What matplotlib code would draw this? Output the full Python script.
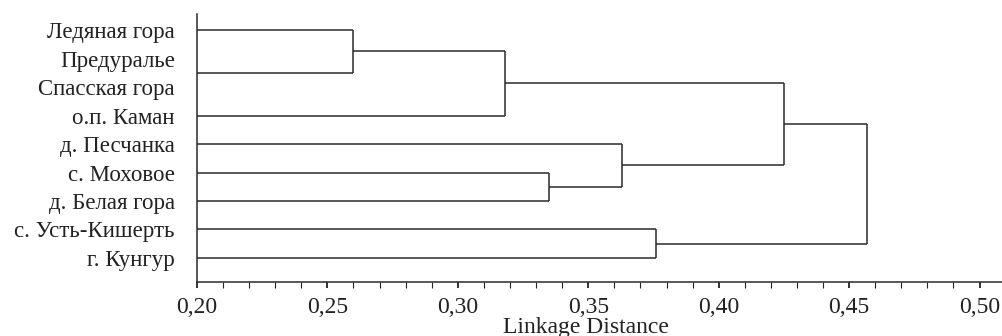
import matplotlib.pyplot as plt
from matplotlib.ticker import MultipleLocator, FuncFormatter

plt.rcParams['font.family'] = ['Liberation Serif', 'DejaVu Serif']

labels = ['Ледяная гора', 'Предуралье', 'Спасская гора', 'о.п. Каман',
          'д. Песчанка', 'с. Моховое', 'д. Белая гора', 'с. Усть-Кишерть',
          'г. Кунгур']

# leaf rows as drawn in the figure (in label-row units)
leaf_rows = [0, 1.5, 3, 4, 5, 6, 7, 8]

# merges: (node a, node b, linkage distance); leaves are 0-7, new nodes get 8, 9, ...
merges = [
    (0, 1, 0.260),   # 8
    (8, 2, 0.318),   # 9
    (4, 5, 0.335),   # 10
    (3, 10, 0.363),  # 11
    (6, 7, 0.376),   # 12
    (9, 11, 0.425),  # 13
    (13, 12, 0.457), # 14
]

x_min, x_max = 0.20, 0.509

fig = plt.figure(figsize=(10.03, 3.36), dpi=100)
ax = fig.add_axes([0.1964, 0.161, 0.8036, 0.797])

node_y = list(leaf_rows)
node_x = [x_min] * len(leaf_rows)
col = '#2a2a2a'
lw = 1.1
for a, b, h in merges:
    ya, yb = node_y[a], node_y[b]
    ax.plot([node_x[a], h], [ya, ya], color=col, lw=lw, solid_capstyle='butt')
    ax.plot([node_x[b], h], [yb, yb], color=col, lw=lw, solid_capstyle='butt')
    ax.plot([h, h], [ya, yb], color=col, lw=lw, solid_capstyle='butt')
    node_y.append((ya + yb) / 2)
    node_x.append(h)

ax.set_xlim(x_min, x_max)
ax.set_ylim(8.84, -0.56)

ax.set_yticks(range(len(labels)))
ax.set_yticklabels(labels, fontsize=16.5, color='#222222')
ax.tick_params(axis='y', length=0, pad=16)

ax.xaxis.set_major_locator(MultipleLocator(0.05))
ax.xaxis.set_minor_locator(MultipleLocator(0.01))
ax.xaxis.set_major_formatter(FuncFormatter(lambda v, _: f'{v:.2f}'.replace('.', ',')))
ax.tick_params(axis='x', which='major', direction='out', length=4, width=1.3,
               labelsize=17, pad=7, colors='#222222')
ax.tick_params(axis='x', which='minor', direction='out', length=4, width=0.8,
               colors='#222222')

for s in ['top', 'right']:
    ax.spines[s].set_visible(False)
for s in ['left', 'bottom']:
    ax.spines[s].set_linewidth(1.1)
    ax.spines[s].set_color('#2a2a2a')

fig.text(586 / 1003, 1 - 327 / 336, 'Linkage Distance', fontsize=17,
         ha='center', va='center', color='#222222')

fig.savefig('out.png', dpi=100)
